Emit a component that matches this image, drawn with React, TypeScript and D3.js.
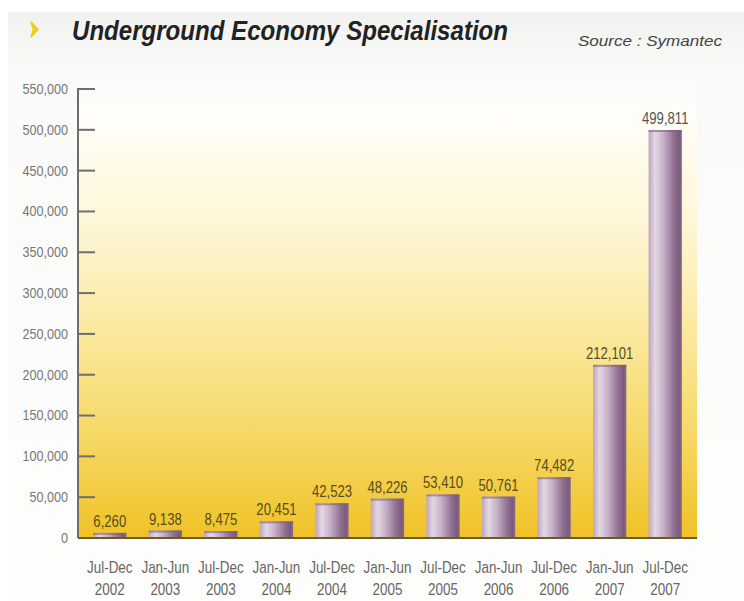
import React from "react";
import * as d3 from "d3";

const periods = ["Jul-Dec", "Jan-Jun", "Jul-Dec", "Jan-Jun", "Jul-Dec", "Jan-Jun", "Jul-Dec", "Jan-Jun", "Jul-Dec", "Jan-Jun", "Jul-Dec"];
const years = ["2002", "2003", "2003", "2004", "2004", "2005", "2005", "2006", "2006", "2007", "2007"];
const values = [6260, 9138, 8475, 20451, 42523, 48226, 53410, 50761, 74482, 212101, 499811];
const yTicks = [0, 50000, 100000, 150000, 200000, 250000, 300000, 350000, 400000, 450000, 500000, 550000];

const W = 744;
const H = 601;
const FONT = "'Liberation Sans', Arial, sans-serif";

function NText(props: {
  x: number;
  y: number;
  sx: number;
  size: number;
  fill: string;
  anchor?: "start" | "middle" | "end";
  dy?: string;
  children: React.ReactNode;
}) {
  return (
    <text
      transform={`translate(${props.x},${props.y}) scale(${props.sx},1)`}
      textAnchor={props.anchor || "start"}
      dy={props.dy}
      fontFamily={FONT}
      fontSize={props.size}
      fill={props.fill}
    >
      {props.children}
    </text>
  );
}

export default function App() {
  const keys = periods.map((p, i) => `${p} ${years[i]}`);
  const x = d3.scaleBand<string>().domain(keys).range([82, 693]).paddingInner(0.4).paddingOuter(0.2);
  const y = d3.scaleLinear().domain([0, 550000]).range([538, 89]);
  const fmt = d3.format(",");
  const axisX = 78;
  const panelRight = 697;

  return (
    <svg width={W} height={H} style={{ position: "absolute", left: 0, top: 0, display: "block" }}>
      <defs>
        <linearGradient id="page" x1="0" y1="0" x2="0" y2="1">
          <stop offset="0" stopColor="#f1f1ef" />
          <stop offset="0.1" stopColor="#fafaf9" />
          <stop offset="1" stopColor="#fdfdfc" />
        </linearGradient>
        <linearGradient id="panel" gradientUnits="userSpaceOnUse" x1="0" y1="70" x2="0" y2="538">
          <stop offset="0" stopColor="#fdfdfc" stopOpacity="0" />
          <stop offset="0.12" stopColor="#fffdf6" />
          <stop offset="0.35" stopColor="#fdf5d2" />
          <stop offset="0.55" stopColor="#fbe9a0" />
          <stop offset="0.78" stopColor="#f6d866" />
          <stop offset="1" stopColor="#f0c226" />
        </linearGradient>
        <linearGradient id="bar" x1="0" y1="0" x2="1" y2="0">
          <stop offset="0" stopColor="#bca6bd" />
          <stop offset="0.2" stopColor="#e4d7e4" />
          <stop offset="0.45" stopColor="#c6b0c6" />
          <stop offset="0.75" stopColor="#927293" />
          <stop offset="0.92" stopColor="#7a5b7b" />
          <stop offset="1" stopColor="#8d6d8d" />
        </linearGradient>
        <filter id="soft" x="-30%" y="-30%" width="160%" height="160%">
          <feGaussianBlur stdDeviation="0.7" />
        </filter>
      </defs>

      <rect x={0} y={0} width={W} height={H} fill="#ffffff" />
      <rect x={8} y={12} width={W - 8} height={H - 12} fill="url(#page)" />

      {/* header */}
      <path d="M31,22 L38,29.5 L31,37 L33.5,29.5 Z" fill="#f2cc18" stroke="#f2cc18" strokeWidth={1.5} strokeLinejoin="round" filter="url(#soft)" />
      <text
        x={72}
        y={40}
        fontFamily={FONT}
        fontWeight="bold"
        fontStyle="italic"
        fontSize={27}
        fill="#222"
        textLength={436}
        lengthAdjust="spacingAndGlyphs"
      >
        Underground Economy Specialisation
      </text>
      <text
        x={578}
        y={46}
        fontFamily={FONT}
        fontStyle="italic"
        fontSize={15}
        fill="#444"
        textLength={144}
        lengthAdjust="spacingAndGlyphs"
      >
        Source : Symantec
      </text>

      {/* panel */}
      <rect x={axisX} y={70} width={panelRight - axisX} height={538 - 70} fill="url(#panel)" />

      {/* bars */}
      {values.map((v, i) => {
        const k = keys[i];
        const bx = x(k)!;
        const by = y(v);
        return (
          <g key={k}>
            <rect x={bx} y={by} width={x.bandwidth()} height={y(0) - by} fill="url(#bar)" />
            <rect x={bx} y={by} width={x.bandwidth()} height={2} fill="#7d617d" opacity={0.6} />
            <NText
              x={bx + x.bandwidth() / 2}
              y={by - 6}
              sx={0.82}
              size={16}
              anchor="middle"
              fill={i === values.length - 1 ? "#555" : "#5a4d1e"}
            >
              {fmt(v)}
            </NText>
          </g>
        );
      })}

      {/* y axis */}
      <line x1={axisX} x2={axisX} y1={y(550000) - 1} y2={y(0)} stroke="#6e6e6e" strokeWidth={2} />
      {yTicks.map((t) => (
        <g key={t}>
          {t > 0 && <line x1={axisX} x2={95} y1={y(t)} y2={y(t)} stroke="#6e6e6e" strokeWidth={2} />}
          <NText x={68} y={y(t)} dy="0.35em" sx={0.9} size={14} anchor="end" fill="#777">
            {fmt(t)}
          </NText>
        </g>
      ))}

      {/* baseline */}
      <line x1={axisX} x2={panelRight} y1={y(0)} y2={y(0)} stroke="#6b5a2a" strokeWidth={2} />

      {/* x labels */}
      {keys.map((k, i) => (
        <g key={`lab-${k}`}>
          <NText x={x(k)! + x.bandwidth() / 2} y={573} sx={0.84} size={16} anchor="middle" fill="#666">
            {periods[i]}
          </NText>
          <NText x={x(k)! + x.bandwidth() / 2} y={595} sx={0.84} size={16} anchor="middle" fill="#666">
            {years[i]}
          </NText>
        </g>
      ))}
    </svg>
  );
}
